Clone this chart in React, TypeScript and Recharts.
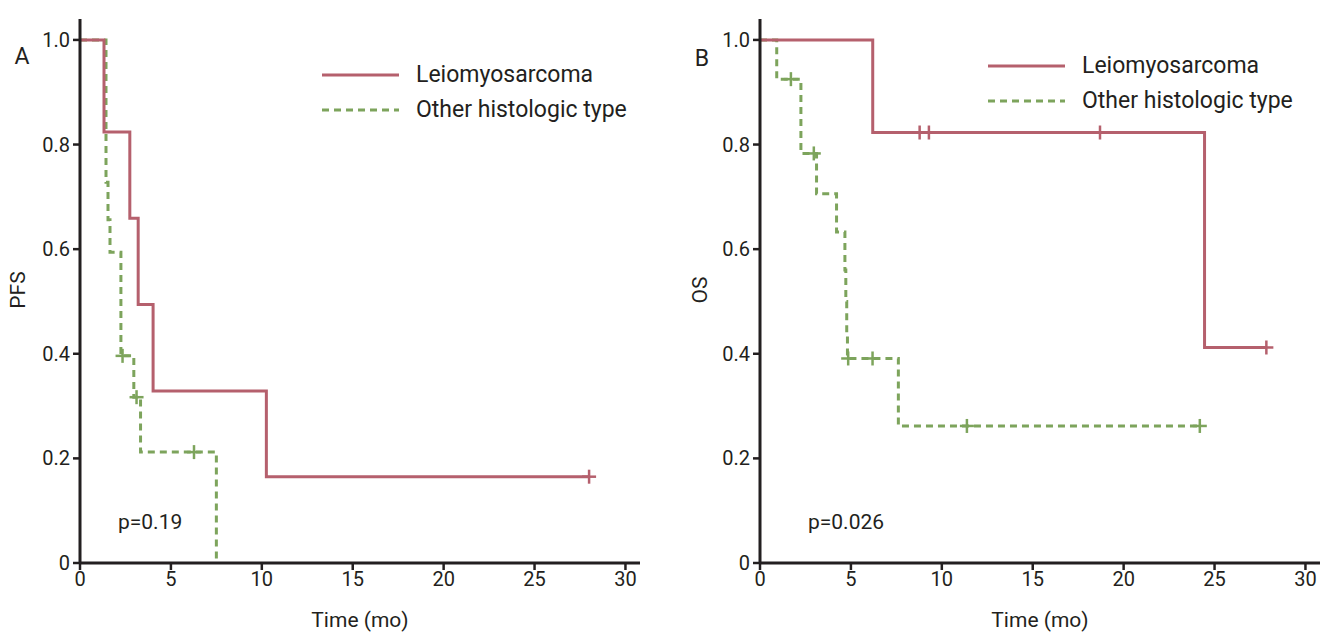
import { LineChart, Line, XAxis, YAxis } from 'recharts';

// Panel A - progression-free survival
const pfsLeioTime = [0, 1.32, 2.74, 3.2, 4.02, 10.25, 28.0];
const pfsLeioSurv = [1, 0.824, 0.659, 0.494, 0.329, 0.165, 0.165];
const pfsLeioCensorTime = [28.0];
const pfsLeioCensorSurv = [0.165];

const pfsOtherTime = [0, 1.43, 1.54, 1.65, 2.25, 2.96, 3.33, 7.5];
const pfsOtherSurv = [1, 0.728, 0.656, 0.594, 0.396, 0.317, 0.212, 0];
const pfsOtherCensorTime = [2.34, 3.11, 6.27];
const pfsOtherCensorSurv = [0.396, 0.317, 0.212];

// Panel B - overall survival
const osLeioTime = [0, 6.2, 24.45, 27.85];
const osLeioSurv = [1, 0.823, 0.412, 0.412];
const osLeioCensorTime = [8.78, 9.29, 18.7, 27.85];
const osLeioCensorSurv = [0.823, 0.823, 0.823, 0.412];

const osOtherTime = [0, 0.92, 2.25, 3.11, 4.21, 4.67, 4.72, 4.77, 4.81, 7.61, 24.2];
const osOtherSurv = [1, 0.925, 0.783, 0.706, 0.633, 0.56, 0.5, 0.44, 0.391, 0.262, 0.262];
const osOtherCensorTime = [1.7, 2.96, 4.85, 6.19, 11.38, 24.19];
const osOtherCensorSurv = [0.925, 0.783, 0.391, 0.391, 0.262, 0.262];

const xTicks = [0, 5, 10, 15, 20, 25, 30];
const yTicks = [0, 0.2, 0.4, 0.6, 0.8, 1.0];
const seriesNames = ['Leiomyosarcoma', 'Other histologic type'];

const RED = '#b5606d';
const GREEN = '#7da45c';
const AXIS = '#231f20';
const FONT = 'Roboto, "Noto Sans", sans-serif';

const toPoints = (t: number[], s: number[]) => t.map((v, i) => ({ t: v, s: s[i] }));

function Plus(props: any) {
  const { cx, cy, stroke } = props;
  if (cx == null || cy == null) return <g />;
  return (
    <g>
      <line x1={cx} x2={cx} y1={cy - 7} y2={cy + 7} stroke={stroke} strokeWidth={2.5} />
      <line x1={cx - 7} x2={cx + 7} y1={cy} y2={cy} stroke={stroke} strokeWidth={2.5} />
    </g>
  );
}

function LegendBox({ left, top }: { left: number; top: number }) {
  return (
    <div style={{ position: 'absolute', left, top, fontFamily: FONT, fontSize: 23, color: AXIS, lineHeight: '35px' }}>
      {seriesNames.map((name, i) => (
        <div key={name} style={{ display: 'flex', alignItems: 'center' }}>
          <svg width={94} height={35}>
            <line
              x1={0}
              x2={77}
              y1={18}
              y2={18}
              stroke={i === 0 ? RED : GREEN}
              strokeWidth={3}
              strokeDasharray={i === 0 ? undefined : '7 5'}
            />
          </svg>
          <span>{name}</span>
        </div>
      ))}
    </div>
  );
}

interface PanelProps {
  leio: { t: number; s: number }[];
  other: { t: number; s: number }[];
  leioCensor: { t: number; s: number }[];
  otherCensor: { t: number; s: number }[];
  width: number;
}

function Panel({ leio, other, leioCensor, otherCensor, width }: PanelProps) {
  const tick = { fontSize: 20, fill: AXIS, fontFamily: FONT };
  return (
    <LineChart width={width} height={633} margin={{ top: 19, right: width - 640, bottom: 0, left: 0 }}>
      <XAxis
        type="number"
        dataKey="t"
        domain={[0, 30.8]}
        ticks={xTicks}
        allowDataOverflow
        height={70}
        tick={tick}
        tickSize={7}
        tickMargin={2}
        axisLine={{ stroke: AXIS, strokeWidth: 3 }}
        tickLine={{ stroke: AXIS, strokeWidth: 2.5 }}
        label={{ value: 'Time (mo)', position: 'insideBottom', offset: 6, fontSize: 21, fill: AXIS, fontFamily: FONT }}
      />
      <YAxis
        type="number"
        dataKey="s"
        domain={[0, 1.04]}
        ticks={yTicks}
        allowDataOverflow
        width={80}
        tick={tick}
        tickSize={7}
        tickMargin={3}
        tickFormatter={(v: number) => (v === 0 ? '0' : v.toFixed(1))}
        axisLine={{ stroke: AXIS, strokeWidth: 3 }}
        tickLine={{ stroke: AXIS, strokeWidth: 2.5 }}
      />
      <Line
        data={other}
        dataKey="s"
        type="stepAfter"
        stroke={GREEN}
        strokeWidth={3}
        strokeDasharray="7 5"
        dot={false}
        isAnimationActive={false}
        name={seriesNames[1]}
      />
      <Line
        data={leio}
        dataKey="s"
        type="stepAfter"
        stroke={RED}
        strokeWidth={3}
        dot={false}
        isAnimationActive={false}
        name={seriesNames[0]}
      />
      <Line
        data={otherCensor}
        dataKey="s"
        stroke="none"
        dot={(p: any) => <Plus key={`og${p.index}`} cx={p.cx} cy={p.cy} stroke={GREEN} />}
        isAnimationActive={false}
        legendType="none"
      />
      <Line
        data={leioCensor}
        dataKey="s"
        stroke="none"
        dot={(p: any) => <Plus key={`lr${p.index}`} cx={p.cx} cy={p.cy} stroke={RED} />}
        isAnimationActive={false}
        legendType="none"
      />
    </LineChart>
  );
}

export default function App() {
  const txt = { fontFamily: FONT, fill: AXIS };
  return (
    <div style={{ position: 'absolute', left: 0, top: 0, width: 1328, height: 633, background: '#fff' }}>
      <div style={{ position: 'absolute', left: 0, top: 0 }}>
        <Panel
          leio={toPoints(pfsLeioTime, pfsLeioSurv)}
          other={toPoints(pfsOtherTime, pfsOtherSurv)}
          leioCensor={toPoints(pfsLeioCensorTime, pfsLeioCensorSurv)}
          otherCensor={toPoints(pfsOtherCensorTime, pfsOtherCensorSurv)}
          width={660}
        />
      </div>
      <div style={{ position: 'absolute', left: 680, top: 0 }}>
        <Panel
          leio={toPoints(osLeioTime, osLeioSurv)}
          other={toPoints(osOtherTime, osOtherSurv)}
          leioCensor={toPoints(osLeioCensorTime, osLeioCensorSurv)}
          otherCensor={toPoints(osOtherCensorTime, osOtherCensorSurv)}
          width={648}
        />
      </div>
      <LegendBox left={322} top={57} />
      <LegendBox left={988} top={48} />
      <svg width={1328} height={633} style={{ position: 'absolute', left: 0, top: 0, pointerEvents: 'none' }}>
        <text x={22} y={64} fontSize={23} textAnchor="middle" {...txt}>A</text>
        <text x={702} y={66} fontSize={23} textAnchor="middle" {...txt}>B</text>
        <text x={25} y={290} fontSize={21} textAnchor="middle" transform="rotate(-90 25 290)" {...txt}>PFS</text>
        <text x={707} y={290} fontSize={21} textAnchor="middle" transform="rotate(-90 707 290)" {...txt}>OS</text>
        <text x={118} y={529} fontSize={21} {...txt}>p=0.19</text>
        <text x={808} y={529} fontSize={21} {...txt}>p=0.026</text>
      </svg>
    </div>
  );
}
